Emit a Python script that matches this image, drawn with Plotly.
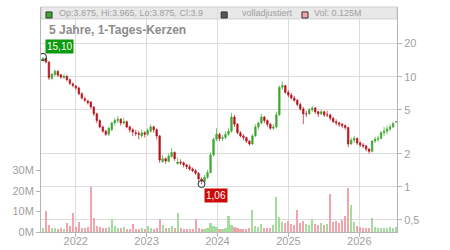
import math
import pandas as pd
import plotly.graph_objects as go

# ---- data ----
start_date = "2021-07-16"
n_candles = 119

opens = [14.0, 14.6, 13.6, 9.6, 10.4, 11.2, 10.4, 9.8, 10.1, 9.4,
         8.6, 8.2, 7.9, 7.0, 6.3, 6.0, 5.9, 5.3, 4.6, 4.0,
         3.5, 3.2, 3.0, 3.3, 3.8, 4.0, 4.1, 3.8, 3.9, 3.5,
         3.3, 3.1, 3.05, 2.9, 3.1, 3.0, 3.2, 3.5, 3.3, 2.9,
         1.7, 1.8, 1.7, 1.88, 2.05, 1.62, 1.68, 1.65, 1.58, 1.52,
         1.45, 1.4, 1.33, 1.18, 1.12, 1.22, 1.35, 1.95, 2.7, 3.0,
         2.75, 2.8, 3.0, 3.2, 4.3, 3.7, 3.1, 2.9, 2.8, 2.6,
         2.45, 2.9, 3.5, 3.8, 4.3, 4.0, 3.7, 3.4, 3.5, 4.5,
         8.0, 8.3, 7.2, 6.8, 6.4, 6.1, 5.6, 5.1, 4.6, 4.6,
         5.0, 5.2, 4.8, 4.6, 4.8, 4.5, 4.5, 4.2, 3.9, 3.8,
         3.7, 3.6, 3.45, 2.45, 2.65, 2.75, 2.5, 2.4, 2.35, 2.2,
         2.1, 2.6, 2.7, 2.75, 3.1, 3.2, 3.35, 3.5, 3.875]
highs = [15.1, 14.8, 13.7, 10.8, 11.6, 11.4, 10.6, 10.5, 10.3, 9.6,
         8.9, 8.4, 8.1, 7.2, 6.6, 6.2, 6.0, 5.4, 4.7, 4.1,
         3.6, 3.3, 3.5, 3.9, 4.2, 4.4, 4.2, 4.2, 4.0, 3.6,
         3.4, 3.3, 3.2, 3.3, 3.2, 3.4, 3.7, 3.6, 3.4, 2.95,
         1.95, 1.85, 2.0, 2.25, 2.1, 1.85, 1.78, 1.7, 1.62, 1.6,
         1.5, 1.45, 1.36, 1.22, 1.28, 1.42, 2.05, 2.8, 3.4, 3.1,
         2.95, 3.2, 3.4, 4.7, 4.5, 3.8, 3.2, 3.0, 2.85, 2.65,
         3.0, 3.7, 3.9, 4.6, 4.4, 4.1, 3.8, 3.7, 4.8, 8.3,
         9.0, 8.4, 7.5, 7.1, 6.7, 6.3, 5.8, 5.3, 4.9, 5.2,
         5.4, 5.3, 4.9, 5.0, 4.9, 4.9, 4.6, 4.3, 4.1, 3.9,
         3.8, 3.7, 3.5, 2.8, 2.9, 2.8, 2.6, 2.5, 2.4, 2.25,
         2.65, 2.85, 2.9, 3.2, 3.5, 3.6, 3.7, 3.9, 3.965]
lows = [13.9, 13.2, 9.3, 9.4, 10.2, 10.0, 9.6, 9.6, 9.1, 8.4,
        8.0, 7.6, 6.8, 6.2, 5.9, 5.6, 5.1, 4.4, 3.8, 3.4,
        3.1, 2.9, 2.9, 3.2, 3.6, 3.8, 3.6, 3.7, 3.4, 3.1,
        2.9, 2.9, 2.7, 2.8, 2.8, 2.9, 3.1, 3.1, 2.7, 1.65,
        1.65, 1.62, 1.68, 1.85, 1.72, 1.6, 1.58, 1.5, 1.45, 1.4,
        1.36, 1.28, 1.12, 1.06, 1.1, 1.18, 1.32, 1.9, 2.6, 2.6,
        2.6, 2.7, 2.9, 3.1, 3.5, 3.0, 2.8, 2.65, 2.5, 2.36,
        2.4, 2.85, 3.3, 3.7, 3.8, 3.5, 3.3, 3.3, 3.4, 4.4,
        7.6, 7.0, 6.5, 6.2, 5.9, 5.4, 4.9, 3.7, 4.3, 4.5,
        4.8, 4.6, 4.3, 4.5, 4.3, 4.3, 4.0, 3.8, 3.6, 3.5,
        3.4, 3.3, 2.3, 2.4, 2.5, 2.4, 2.3, 2.25, 2.1, 2.0,
        2.05, 2.5, 2.55, 2.7, 2.9, 3.0, 3.2, 3.4, 3.875]
closes = [14.6, 13.6, 9.8, 10.5, 11.2, 10.3, 9.9, 10.1, 9.4, 8.7,
          8.3, 7.9, 7.0, 6.4, 6.1, 5.8, 5.3, 4.6, 4.0, 3.5,
          3.2, 3.0, 3.4, 3.8, 4.0, 4.1, 3.8, 3.9, 3.5, 3.3,
          3.15, 3.05, 3.0, 3.1, 3.0, 3.25, 3.5, 3.3, 2.9, 1.75,
          1.8, 1.72, 1.9, 2.05, 1.8, 1.68, 1.65, 1.58, 1.52, 1.45,
          1.4, 1.33, 1.18, 1.14, 1.22, 1.35, 1.95, 2.7, 3.0, 2.75,
          2.8, 3.0, 3.2, 4.3, 3.7, 3.1, 2.9, 2.8, 2.6, 2.45,
          2.9, 3.5, 3.8, 4.3, 4.0, 3.7, 3.4, 3.5, 4.5, 8.0,
          8.3, 7.2, 6.8, 6.4, 6.1, 5.6, 5.1, 4.6, 4.6, 5.0,
          5.2, 4.8, 4.6, 4.8, 4.5, 4.5, 4.2, 3.9, 3.8, 3.7,
          3.6, 3.45, 2.45, 2.65, 2.75, 2.5, 2.4, 2.35, 2.2, 2.1,
          2.6, 2.7, 2.75, 3.1, 3.2, 3.35, 3.5, 3.75, 3.9]
volumes_m = [2.0, 10.5, 3.5, 2.0, 1.8, 1.5, 2.2, 1.6, 4.5, 3.0,
             9.4, 2.5, 5.0, 2.2, 1.8, 2.6, 22.0, 7.0, 3.0, 2.5,
             2.0, 1.8, 2.4, 6.3, 3.0, 2.2, 1.8, 2.5, 1.6, 1.5,
             4.0, 1.6, 1.4, 2.0, 1.5, 3.0, 2.2, 1.5, 2.0, 6.3,
             3.5, 2.0, 1.8, 3.0, 2.0, 9.3, 1.8, 1.5, 1.6, 1.3,
             1.4, 6.3, 2.0, 1.6, 1.4, 2.0, 4.5, 3.0, 2.5, 1.5,
             1.3, 2.0, 8.0, 3.5, 2.5, 1.8, 1.4, 1.6, 1.3, 2.2,
             11.0, 3.0, 2.5, 4.0, 2.0, 1.8, 2.2, 3.5, 17.0, 7.5,
             5.0, 4.5, 5.5, 4.0, 3.5, 10.7, 4.5, 5.5, 4.0, 3.5,
             6.3, 4.0, 3.5, 4.5, 3.5, 4.0, 18.6, 5.0, 5.5, 4.5,
             6.0, 8.0, 21.5, 13.0, 5.0, 3.0, 2.5, 2.0, 2.2, 1.8,
             7.0, 2.5, 2.0, 1.8, 2.2, 2.0, 2.5, 1.8, 2.6]

price_ticks = [0.5, 1, 2, 5, 10, 20]
price_tick_text = ["0,5", "1", "2", "5", "10", "20"]
vol_ticks = [0, 10, 20, 30]
vol_tick_text = ["0M", "10M", "20M", "30M"]
year_ticks = ["2022-01-01", "2023-01-01", "2024-01-01", "2025-01-01", "2026-01-01"]
year_text = ["2022", "2023", "2024", "2025", "2026"]

title_text = "5 Jahre, 1-Tages-Kerzen"
legend_texts = ["Op:3.875, Hi:3.965, Lo:3.875, Cl:3.9", "volladjustiert", "Vol: 0.125M"]
high_label = "15,10"
low_label = "1,06"
high_idx = 0
low_idx = 53

# ---- figure ----
dates = pd.date_range(start_date, periods=n_candles, freq="370h")
GREEN = "#3da82e"
RED = "#b8141c"
VGREEN = "#a6dba0"
VRED = "#f2a4ac"
FONT = "Liberation Sans, Arial, sans-serif"
GRID = "#dcdcdc"
AX = "#b5b5b5"
TXT = "#a0a0a0"

vol_colors = [VGREEN if c >= o else VRED for o, c in zip(opens, closes)]

fig = go.Figure()
fig.add_trace(go.Bar(
    x=dates, y=volumes_m, yaxis="y", marker_color=vol_colors,
    marker_line_width=0, width=370 * 3600 * 1000 * 0.7, hoverinfo="skip",
    showlegend=False))
fig.add_trace(go.Candlestick(
    x=dates, open=opens, high=highs, low=lows, close=closes, yaxis="y2",
    increasing=dict(line=dict(color=GREEN, width=0.7), fillcolor=GREEN),
    decreasing=dict(line=dict(color=RED, width=0.7), fillcolor=RED),
    whiskerwidth=0, hoverinfo="skip", showlegend=False))
fig.add_trace(go.Scatter(
    x=[dates[high_idx], dates[low_idx]], y=[highs[high_idx], lows[low_idx]],
    yaxis="y2", mode="markers", hoverinfo="skip", showlegend=False,
    marker=dict(symbol="circle-open", size=7, color="#222", line=dict(width=1))))

annotations = [
    dict(x=dates[high_idx], y=math.log10(highs[high_idx]), xref="x", yref="y2",
         text=high_label, showarrow=False, xanchor="left", yanchor="bottom",
         xshift=2, yshift=3, bgcolor="#0b9a0b", borderpad=1,
         font=dict(family=FONT, size=10, color="white")),
    dict(x=dates[low_idx], y=math.log10(lows[low_idx]), xref="x", yref="y2",
         text=low_label, showarrow=False, xanchor="left", yanchor="top",
         xshift=2, yshift=-4, bgcolor="#cc0a0a", borderpad=1,
         font=dict(family=FONT, size=10, color="white")),
    dict(x=0.017, y=0.898, xref="paper", yref="paper", text="<b>%s</b>" % title_text,
         showarrow=False, xanchor="left", yanchor="middle",
         font=dict(family=FONT, size=12, color="#8c8c8c")),
]
leg_x = [0.045, 0.559, 0.761]
for lx, t in zip(leg_x, legend_texts):
    annotations.append(dict(x=lx, y=0.973, xref="paper", yref="paper", text=t,
                            showarrow=False, xanchor="left", yanchor="middle",
                            font=dict(family=FONT, size=9, color=TXT)))

shapes = [
    dict(type="rect", xref="paper", yref="paper", x0=0, x1=1, y0=0.947, y1=1.0,
         fillcolor="#e8e8e8", line=dict(color="#cfcfcf", width=1), layer="below"),
]
sq = [(0.014, 0.031, GREEN), (0.506, 0.523, "#555555"), (0.733, 0.750, VRED)]
for x0, x1, c in sq:
    shapes.append(dict(type="rect", xref="paper", yref="paper", x0=x0, x1=x1,
                       y0=0.951, y1=0.978, fillcolor=c,
                       line=dict(color="#333", width=1)))

fig.update_layout(
    width=450, height=250,
    margin=dict(l=41, r=53, t=7, b=18, autoexpand=False),
    paper_bgcolor="white", plot_bgcolor="rgba(0,0,0,0)",
    bargap=0, showlegend=False,
    font=dict(family=FONT, size=11, color=TXT),
    xaxis=dict(type="date", range=["2021-07-06", "2026-07-14"],
               rangeslider=dict(visible=False), automargin=False,
               tickvals=year_ticks, ticktext=year_text, ticklabelstandoff=-5,
               showgrid=True, gridcolor=GRID, gridwidth=1,
               showline=True, linecolor=AX, ticks="outside", ticklen=4,
               tickcolor=AX, tickfont=dict(size=11, color=TXT), zeroline=False),
    yaxis=dict(side="left", range=[0, 110], tickvals=vol_ticks, ticktext=vol_tick_text,
               showgrid=False, zeroline=False, showline=True, linecolor=AX,
               ticks="outside", ticklen=4, tickcolor=AX, automargin=False,
               tickfont=dict(size=11, color=TXT)),
    yaxis2=dict(side="right", overlaying="y", type="log", automargin=False,
                range=[math.log10(0.389), math.log10(42.9)],
                tickvals=price_ticks, ticktext=price_tick_text,
                showgrid=True, gridcolor=GRID, gridwidth=1, zeroline=False,
                showline=True, linecolor=AX, ticks="outside", ticklen=4,
                tickcolor=AX, tickfont=dict(size=11, color=TXT)),
    annotations=annotations, shapes=shapes,
)

fig.write_html("out.html")
